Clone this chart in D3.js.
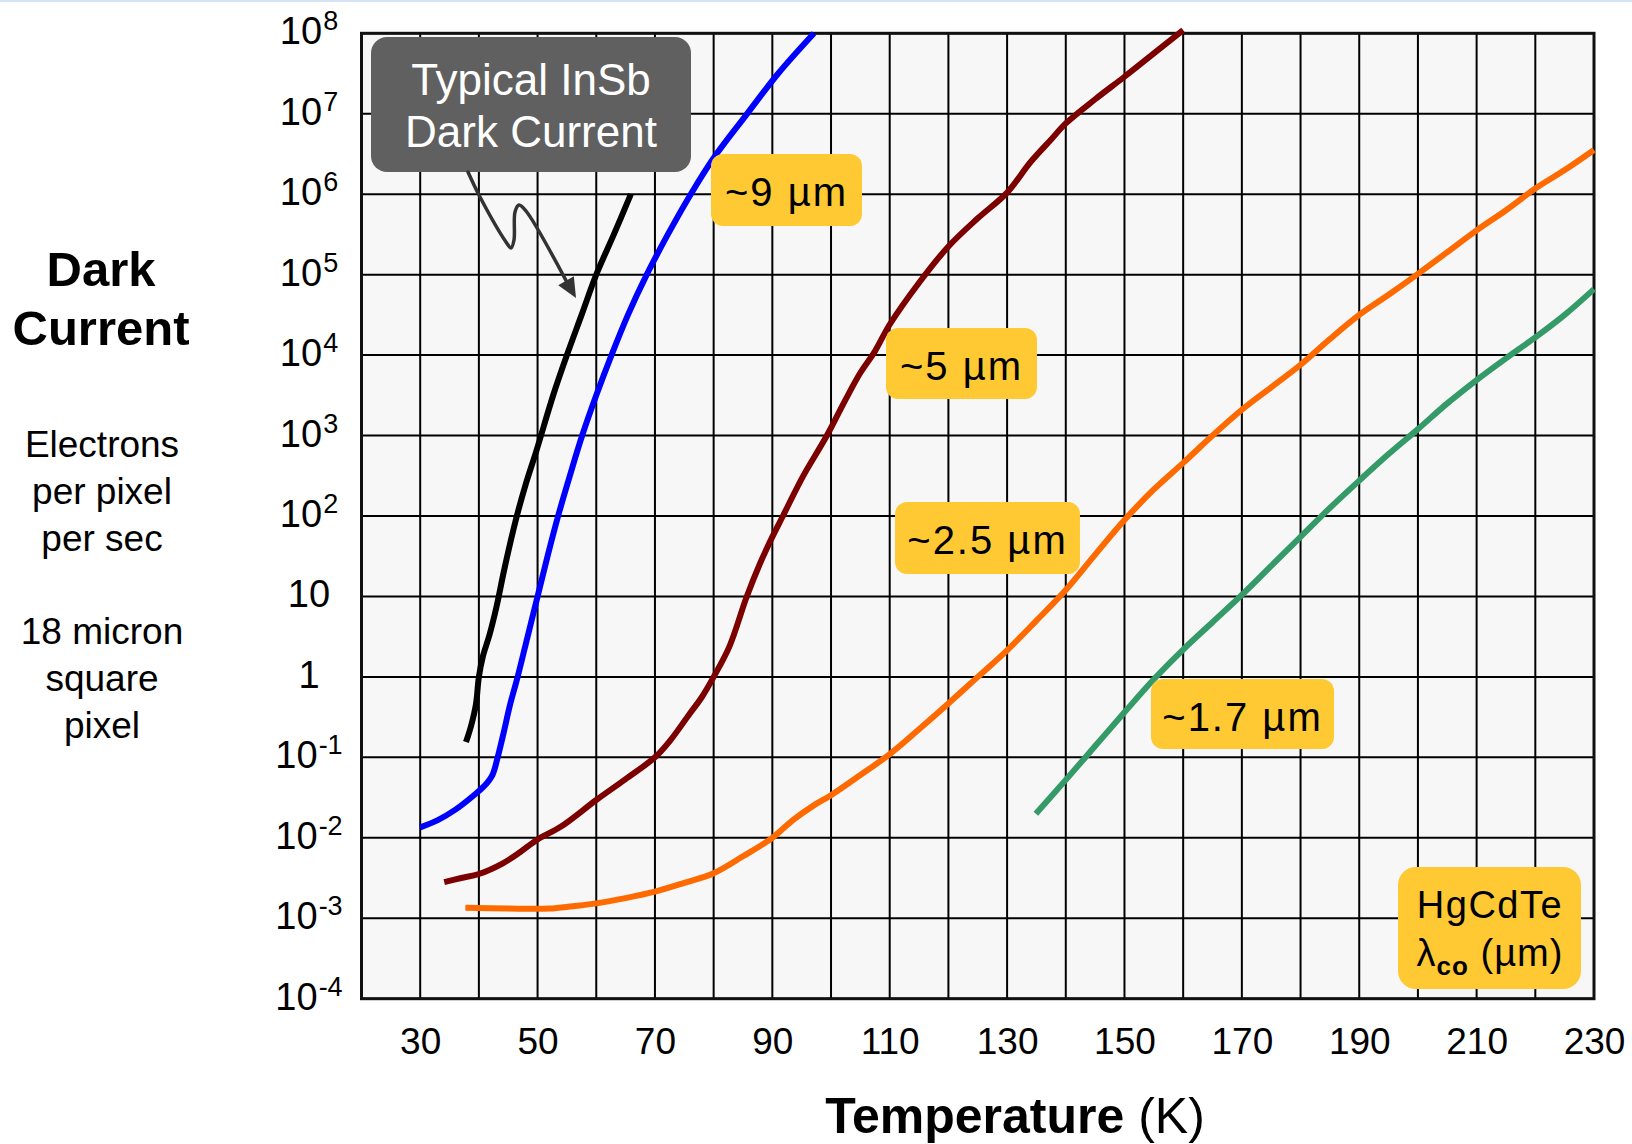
<!DOCTYPE html>
<html><head><meta charset="utf-8">
<script src="https://cdn.jsdelivr.net/npm/d3@7"></script>
<style>
html,body{margin:0;padding:0;background:#fff;}
svg{display:block;}
text{font-family:"Liberation Sans",Arial,Helvetica,sans-serif;}
</style>
</head><body>
<svg id="chart" width="1632" height="1144"></svg>
<script>
// ---------- data ----------
const gridTemps = [20,30,40,50,60,70,80,90,100,110,120,130,140,150,160,170,180,190,200,210,220,230];
const xTickLabels = [30,50,70,90,110,130,150,170,190,210,230];
const yExponents = [8,7,6,5,4,3,2,1,0,-1,-2,-3,-4];

// log10(electrons / pixel / sec) versus temperature (K)
const insbTemp = [37.8,38.7,39.5,40.0,40.7,41.8,43.0,44.4,46.4,48.0,49.8,52.7,55.0,57.5,60.0,63.0,65.9];
const insbLog  = [-0.81,-0.6,-0.34,0.0,0.26,0.52,0.87,1.36,1.98,2.4,2.81,3.51,4.0,4.5,5.0,5.5,6.0];

const um9Temp = [30,33,36,39,41,42.3,43.2,44.2,45.3,46.6,48.3,50.0,51.7,53.5,55.5,57.6,60.0,62.6,65.4,68.6,72.2,76.1,80.0,85.5,91.0,97.1];
const um9Log  = [-1.87,-1.78,-1.65,-1.48,-1.35,-1.22,-1.0,-0.7,-0.35,0,0.5,1,1.5,2,2.5,3,3.5,4,4.5,5,5.5,6,6.45,6.98,7.5,8];

const um5Temp = [34.1,37,40,44,47,50,54,60,65,70,72.5,75.8,78,80,82.7,85.6,87.9,90,91.8,95.2,99.3,102.5,105,107.5,110,115,120,125,130,134,137.5,140,145,150,155,160];
const um5Log  = [-2.55,-2.5,-2.45,-2.32,-2.18,-2.02,-1.86,-1.53,-1.27,-1.0,-0.8,-0.47,-0.25,0,0.38,0.99,1.41,1.74,2.0,2.49,3.0,3.45,3.78,4.05,4.38,4.9,5.35,5.7,6.02,6.4,6.68,6.88,7.18,7.46,7.75,8.04];

const um25Temp = [37.7,45,52,56,60,65,70,75,80,85,90,93.5,97,100,105,110,115,120,125,130,135,140,145,150,155,160,165,170,175,180,185,190,195,200,205,210,215,220,225,230];
const um25Log  = [-2.87,-2.88,-2.88,-2.85,-2.815,-2.75,-2.67,-2.56,-2.44,-2.23,-2.0,-1.78,-1.6,-1.47,-1.22,-0.96,-0.65,-0.33,0,0.33,0.7,1.08,1.52,1.95,2.33,2.66,3.0,3.32,3.6,3.88,4.2,4.5,4.75,5.01,5.28,5.55,5.8,6.07,6.3,6.55];

const um17Temp = [134.9,140,145,150,155,160,165,170,175,180,185,190,195,200,205,210,215,220,225,230];
const um17Log  = [-1.7,-1.28,-0.86,-0.44,-0.03,0.34,0.68,1.02,1.38,1.74,2.1,2.44,2.77,3.08,3.4,3.69,3.96,4.22,4.5,4.82];

const seriesNames  = ["InSb","~9 µm","~5 µm","~2.5 µm","~1.7 µm"];
const seriesColors = ["#000000","#0000ff","#7d0000","#ff6a00","#349a68"];

// ---------- setup ----------
const svg = d3.select("#chart");
const x = d3.scaleLinear().domain([20,230]).range([361.5,1594]);
const y = d3.scaleLog().domain([1e-4,1e8]).range([998.7,33.3]);

// top strip
svg.append("rect").attr("x",0).attr("y",0).attr("width",1632).attr("height",2).attr("fill","#d6e2f6");

// plot background
svg.append("rect").attr("x",x(20)).attr("y",y(1e8)).attr("width",x(230)-x(20)).attr("height",y(1e-4)-y(1e8)).attr("fill","#f7f7f7");

// grid
const g = svg.append("g");
g.selectAll("line.v").data(gridTemps).enter().append("line")
  .attr("x1",d=>x(d)).attr("x2",d=>x(d)).attr("y1",y(1e8)).attr("y2",y(1e-4))
  .attr("stroke","#000").attr("stroke-width",2);
g.selectAll("line.h").data(yExponents).enter().append("line")
  .attr("x1",x(20)).attr("x2",x(230)).attr("y1",d=>y(Math.pow(10,d))).attr("y2",d=>y(Math.pow(10,d)))
  .attr("stroke","#000").attr("stroke-width",2);
svg.append("rect").attr("x",x(20)).attr("y",y(1e8)).attr("width",x(230)-x(20)).attr("height",y(1e-4)-y(1e8))
  .attr("fill","none").attr("stroke","#111").attr("stroke-width",3);

// x axis labels via d3 axis
const xAxis = d3.axisBottom(x).tickValues(xTickLabels).tickSize(0).tickPadding(0).tickFormat(d3.format("d"));
const xa = svg.append("g").attr("transform",`translate(0,${y(1e-4)})`).call(xAxis);
xa.select(".domain").remove();
xa.selectAll("text").attr("font-size",37).attr("fill","#000").attr("dy",null).attr("y",55)
  .style("font-family",'"Liberation Sans",Arial,sans-serif');

// y labels
yExponents.forEach(e=>{
  const t = svg.append("text").attr("x",309).attr("y",y(Math.pow(10,e))+11)
    .attr("text-anchor","middle").attr("font-size",38).attr("fill","#000");
  if (e===0) { t.text("1"); }
  else if (e===1) { t.text("10"); }
  else {
    t.append("tspan").text("10");
    t.append("tspan").attr("dy",-14).attr("dx",1).attr("font-size",27).text(String(e));
  }
});

// curves
const line = d3.line().x(d=>x(d[0])).y(d=>y(Math.pow(10,d[1]))).curve(d3.curveCatmullRom.alpha(0.5));
const allSeries = [
  d3.zip(insbTemp, insbLog),
  d3.zip(um9Temp, um9Log),
  d3.zip(um5Temp, um5Log),
  d3.zip(um25Temp, um25Log),
  d3.zip(um17Temp, um17Log)
];
allSeries.forEach((s,i)=>{
  svg.append("path").datum(s).attr("d",line).attr("fill","none")
    .attr("stroke",seriesColors[i]).attr("stroke-width",6).attr("stroke-linejoin","round");
});

// yellow labels
const labelBoxes = [
  {text:"~9 µm",   x0:711, y0:154, w:151, h:72},
  {text:"~5 µm",   x0:886, y0:328, w:151, h:71},
  {text:"~2.5 µm", x0:895, y0:502, w:185, h:72},
  {text:"~1.7 µm", x0:1151,y0:679, w:183, h:70}
];
labelBoxes.forEach(b=>{
  svg.append("rect").attr("x",b.x0).attr("y",b.y0).attr("width",b.w).attr("height",b.h)
    .attr("rx",12).attr("fill","#ffc933");
  svg.append("text").attr("x",b.x0+b.w/2).attr("y",b.y0+52).attr("text-anchor","middle")
    .attr("font-size",40).attr("letter-spacing",2).attr("fill","#000").text(b.text);
});

// HgCdTe box
svg.append("rect").attr("x",1398).attr("y",867).attr("width",183).attr("height",122).attr("rx",18).attr("fill","#ffc933");
svg.append("text").attr("x",1490).attr("y",918).attr("text-anchor","middle").attr("font-size",38).attr("letter-spacing",1.5).text("HgCdTe");
const lam = svg.append("text").attr("x",1490).attr("y",966).attr("text-anchor","middle").attr("font-size",38).attr("letter-spacing",1);
lam.append("tspan").text("λ");
lam.append("tspan").attr("dy",9).attr("font-size",26).attr("font-weight","bold").text("co");
lam.append("tspan").attr("dy",-9).text(" (µm)");

// InSb callout
svg.append("rect").attr("x",371).attr("y",37).attr("width",320).attr("height",135).attr("rx",16).attr("fill","#606060");
svg.append("text").attr("x",531).attr("y",95).attr("text-anchor","middle").attr("font-size",44).attr("fill","#fff").text("Typical InSb");
svg.append("text").attr("x",531).attr("y",147).attr("text-anchor","middle").attr("font-size",44).attr("fill","#fff").text("Dark Current");
const arrowPts = [[468,172],[480,197],[506,242],[511,248],[514,240],[515,212],[519,205],[526,211],[570,288]];
svg.append("path").attr("d",d3.line().curve(d3.curveCatmullRom)(arrowPts)).attr("fill","none")
  .attr("stroke","#333").attr("stroke-width",3.5).attr("stroke-linecap","round");
// arrowhead
{
  const tip=[576,298], from=[526,211];
  const ang=Math.atan2(tip[1]-from[1],tip[0]-from[0]);
  const L=20, W=9;
  const bx=tip[0]-L*Math.cos(ang), by=tip[1]-L*Math.sin(ang);
  const px=-Math.sin(ang), py=Math.cos(ang);
  svg.append("path").attr("d",`M${tip[0]},${tip[1]}L${bx+W*px},${by+W*py}L${bx-W*px},${by-W*py}Z`).attr("fill","#333");
}

// left titles
const leftX = 101;
svg.append("text").attr("x",leftX).attr("y",286).attr("text-anchor","middle").attr("font-size",49).attr("font-weight","bold").text("Dark");
svg.append("text").attr("x",leftX).attr("y",345).attr("text-anchor","middle").attr("font-size",49).attr("font-weight","bold").text("Current");
const sub = [["Electrons",457],["per pixel",504],["per sec",551],["18 micron",644],["square",691],["pixel",738]];
sub.forEach(s=>{
  svg.append("text").attr("x",leftX+1).attr("y",s[1]).attr("text-anchor","middle").attr("font-size",37).text(s[0]);
});

// x title
const xt = svg.append("text").attr("x",1015).attr("y",1133).attr("text-anchor","middle").attr("font-size",50);
xt.append("tspan").attr("font-weight","bold").text("Temperature");
xt.append("tspan").text(" (K)");
</script>
</body></html>
